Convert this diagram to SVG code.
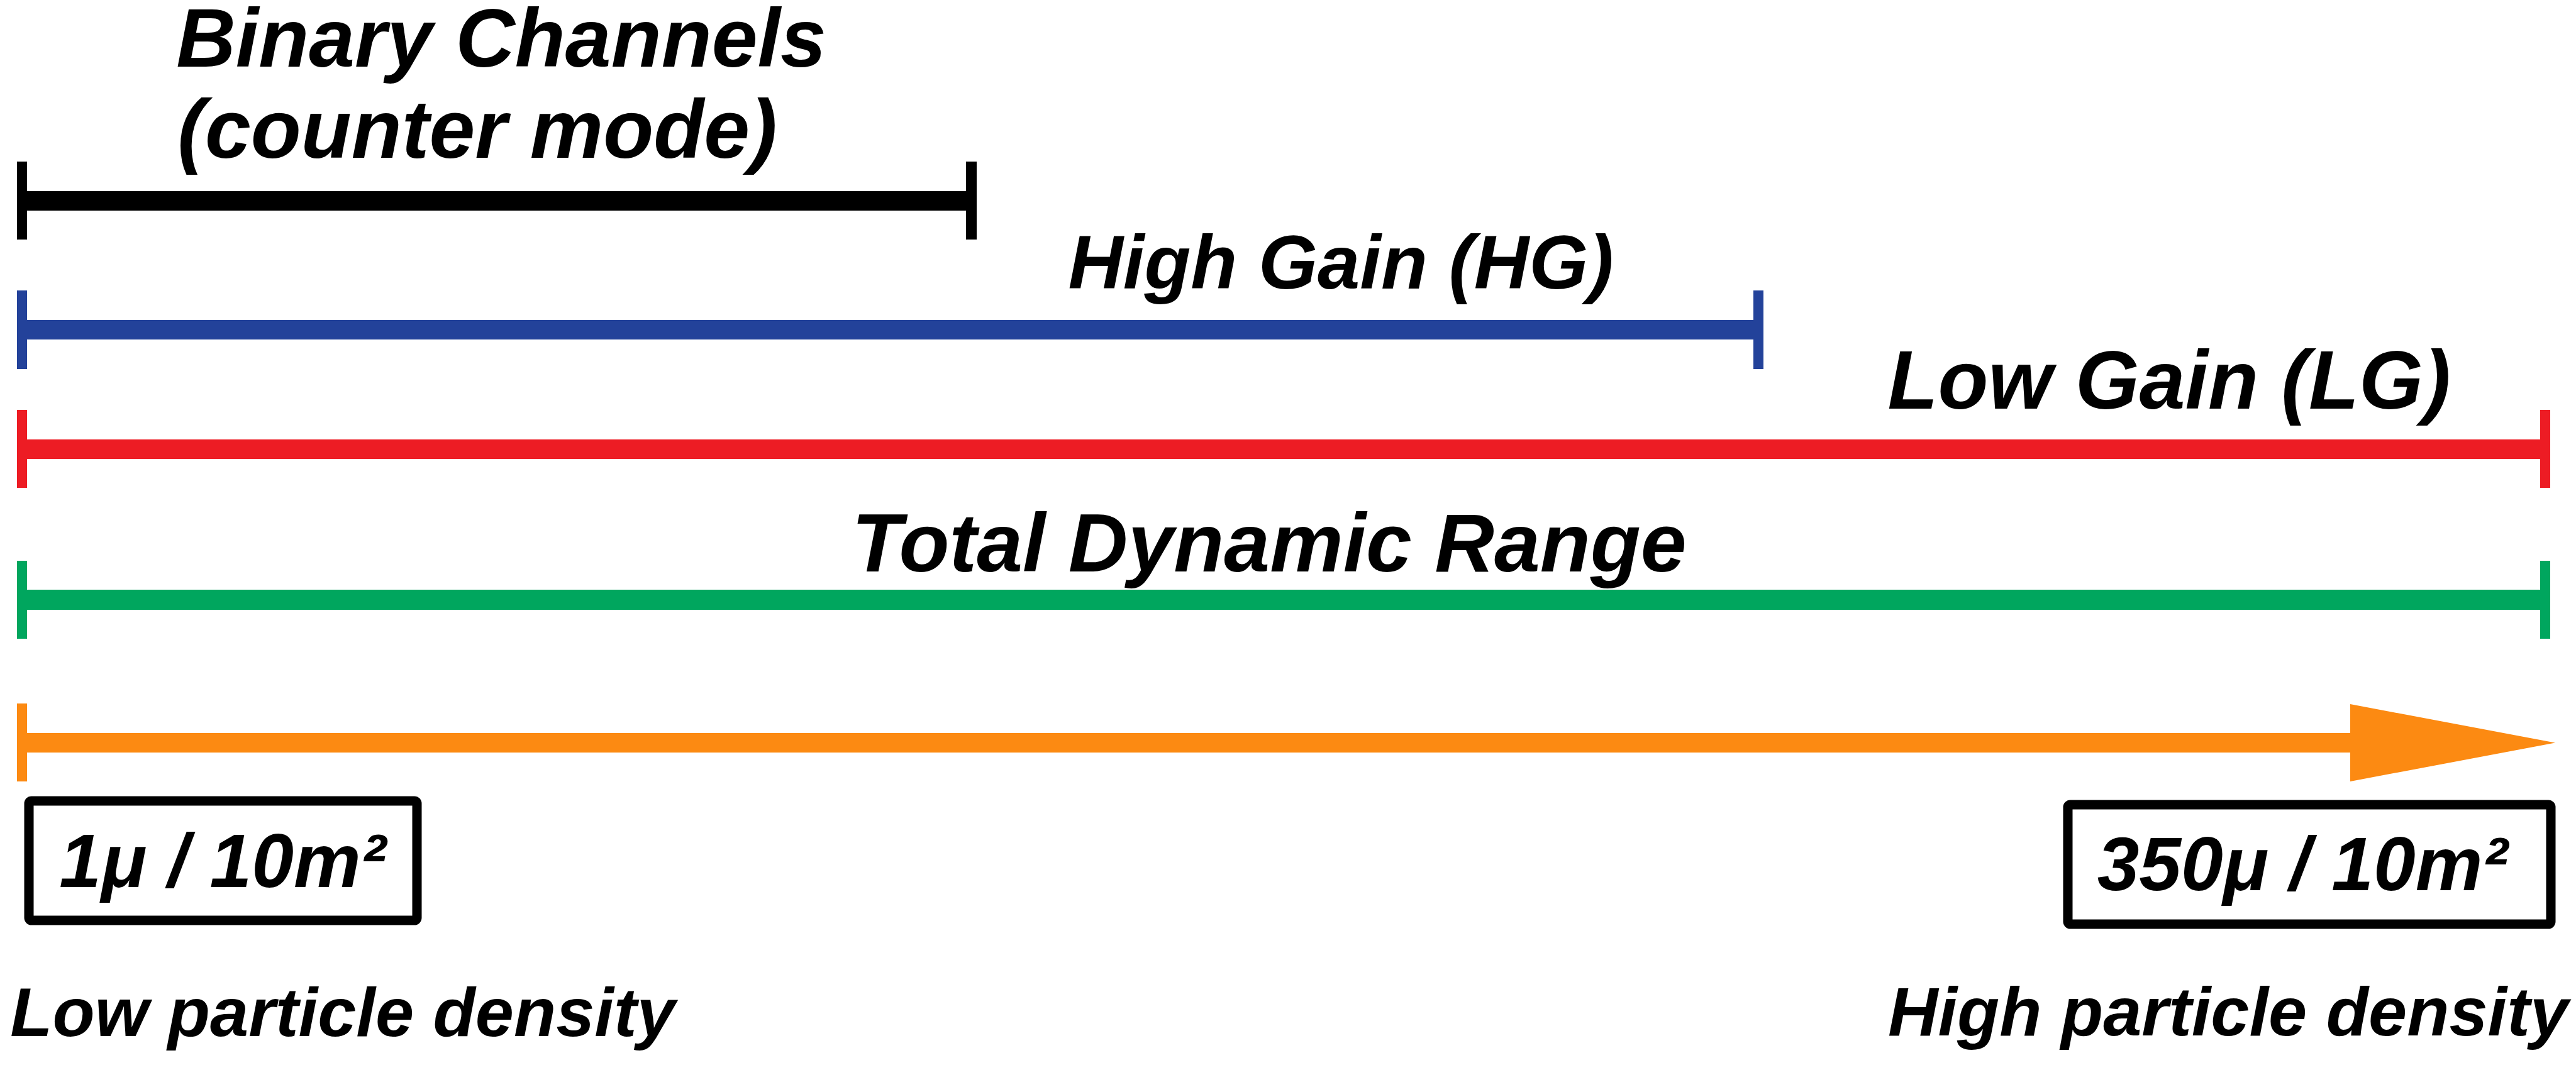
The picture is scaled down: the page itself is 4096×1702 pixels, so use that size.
<svg xmlns="http://www.w3.org/2000/svg" width="4096" height="1702" viewBox="0 0 4096 1702">
<style>
.t{font-family:"Liberation Sans",Arial,sans-serif;font-weight:bold;font-style:italic;fill:#000;text-anchor:middle}
.big{font-size:131px}
.mid{font-size:121px}
.val{font-size:120px}
.foot{font-size:110px}
.box{fill:#fff;stroke:#000;stroke-width:15}
</style>
<rect width="4096" height="1702" fill="#fff"/>
<g id="connectors">
  <g id="binary-bar" fill="#000">
    <rect x="27" y="304" width="1526" height="31"/>
    <rect x="27" y="257" width="16" height="124"/>
    <rect x="1536" y="257" width="17" height="124"/>
  </g>
  <g id="hg-bar" fill="#23429a">
    <rect x="27" y="509" width="2777" height="31"/>
    <rect x="27" y="462" width="16" height="125"/>
    <rect x="2788" y="462" width="16" height="125"/>
  </g>
  <g id="lg-bar" fill="#ed1c24">
    <rect x="27" y="699" width="4028" height="31"/>
    <rect x="27" y="652" width="16" height="124"/>
    <rect x="4039" y="652" width="16" height="124"/>
  </g>
  <g id="total-bar" fill="#00a65e">
    <rect x="27" y="938" width="4028" height="32"/>
    <rect x="27" y="892" width="16" height="124"/>
    <rect x="4039" y="892" width="16" height="124"/>
  </g>
  <g id="density-arrow" fill="#fc8a12">
    <rect x="27" y="1166" width="3715" height="31"/>
    <rect x="27" y="1119" width="16" height="124"/>
    <polygon points="3737,1120 4063,1181.5 3737,1243"/>
  </g>
</g>
<g id="label-binary">
  <text class="t big" x="797" y="106">Binary Channels</text>
  <text class="t big" x="759" y="251">(counter mode)</text>
</g>
<g id="label-hg"><text class="t mid" x="2132" y="459">High Gain (HG)</text></g>
<g id="label-lg"><text class="t big" x="3449" y="650">Low Gain (LG)</text></g>
<g id="label-total"><text class="t big" x="2018" y="909">Total Dynamic Range</text></g>
<g id="box-low">
  <rect class="box" x="46" y="1274" width="617" height="190" rx="4"/>
  <text class="t val" x="354" y="1411">1μ / 10m²</text>
</g>
<g id="box-high">
  <rect class="box" x="3288" y="1280" width="768" height="190" rx="4"/>
  <text class="t val" x="3661" y="1416">350μ / 10m²</text>
</g>
<g id="label-low-density"><text class="t foot" x="545" y="1648">Low particle density</text></g>
<g id="label-high-density"><text class="t foot" x="3543" y="1647">High particle density</text></g>
</svg>
